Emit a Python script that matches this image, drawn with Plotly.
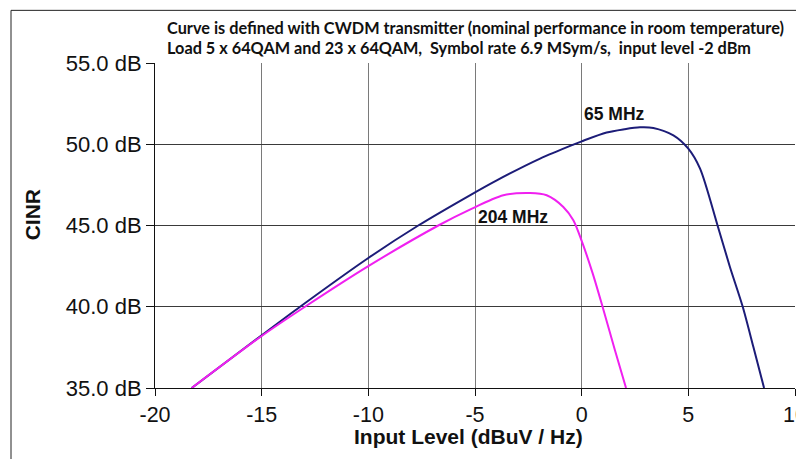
import plotly.graph_objects as go

# 65 MHz curve
x_65 = [-18.28, -15, -13.2, -10, -7.66, -5.24, -3.98, -1.95, -0.39, 0, 1.17, 2.0, 2.73, 3.36, 4.3, 5, 5.55, 6.37, 6.95, 7.55, 8.05, 8.55]
y_65 = [35, 38.24, 40, 43.0, 45, 46.86, 47.78, 49.12, 49.98, 50.18, 50.72, 50.92, 51.04, 51.0, 50.55, 49.73, 48.5, 45, 42.45, 40, 37.52, 35]

# 204 MHz curve
x_204 = [-18.28, -15, -12.97, -10, -6.72, -5.24, -3.67, -2.42, -1.64, -0.86, -0.39, 0, 0.52, 0.98, 1.56, 2.08]
y_204 = [35, 38.2, 40, 42.5, 45, 45.98, 46.86, 47.0, 46.86, 46.14, 45.32, 44.05, 42.04, 40, 37.32, 35]

x_ticks = [-20, -15, -10, -5, 0, 5, 10]
y_ticks = [35, 40, 45, 50, 55]

title_lines = [
    "Curve is defined with CWDM transmitter (nominal performance in room temperature)",
    "Load 5 x 64QAM and 23 x 64QAM,  Symbol rate 6.9 MSym/s,  input level -2 dBm",
]

fig = go.Figure()
fig.add_trace(go.Scatter(x=x_65, y=y_65, mode="lines", name="65 MHz",
                         line=dict(color="#1c1c78", width=2, shape="spline", smoothing=0.8)))
fig.add_trace(go.Scatter(x=x_204, y=y_204, mode="lines", name="204 MHz",
                         line=dict(color="#f020f0", width=2, shape="spline", smoothing=0.8)))

fig.add_annotation(x=1.52, y=51.85, text="<b>65 MHz</b>", showarrow=False,
                   font=dict(family="Liberation Sans, Arial", size=17.5, color="#111"))
fig.add_annotation(x=-3.22, y=45.5, text="<b>204 MHz</b>", showarrow=False,
                   font=dict(family="Liberation Sans, Arial", size=17.5, color="#111"))

for t, yy in zip(title_lines, [1.11, 1.048]):
    fig.add_annotation(xref="paper", yref="paper", x=0.0156, y=yy, text="<b>" + t + "</b>",
                       showarrow=False, xanchor="left", yanchor="middle",
                       font=dict(family="Lato, Carlito, sans-serif", size=16.3, color="#111"))

# axis titles
fig.add_annotation(xref="paper", yref="paper", x=(468 - 155) / 640, y=(387.7 - 436) / 325,
                   text="<b>Input Level (dBuV / Hz)</b>", showarrow=False,
                   xanchor="center", yanchor="middle",
                   font=dict(family="Liberation Sans, Arial", size=21, color="#111"))
fig.add_annotation(xref="paper", yref="paper", x=(32 - 155) / 640, y=(387.7 - 215) / 325,
                   text="<b>CINR</b>", showarrow=False, textangle=-90,
                   xanchor="center", yanchor="middle",
                   font=dict(family="Liberation Sans, Arial", size=21, color="#111"))

# outer frame
fig.add_shape(type="rect", xref="paper", yref="paper", x0=-0.225, x1=1.2, y0=-0.4, y1=1.162,
              line=dict(color="#222", width=1), fillcolor="rgba(0,0,0,0)", layer="below")

fig.update_layout(
    width=796, height=451,
    margin=dict(l=147, r=9, t=55, b=71),
    plot_bgcolor="white", paper_bgcolor="white",
    showlegend=False,
    font=dict(family="Liberation Sans, Arial", color="#111"),
)
fig.update_xaxes(range=[-20, 10], tickvals=x_ticks, ticktext=[str(v) for v in x_ticks],
                 showgrid=True, gridcolor="#7a7a7a", gridwidth=1,
                 showline=True, linecolor="#111", linewidth=1,
                 ticks="outside", ticklen=7, tickcolor="#111",
                 tickfont=dict(size=21.5), zeroline=False, automargin=False,
                 ticklabeloverflow="allow")
fig.update_yaxes(range=[35, 55], tickvals=y_ticks, ticktext=[f"{v:.1f} dB" for v in y_ticks],
                 showgrid=True, gridcolor="#3a3a3a", gridwidth=1,
                 showline=True, linecolor="#111", linewidth=1,
                 ticks="outside", ticklen=8, tickcolor="#111",
                 tickfont=dict(size=22), zeroline=False, automargin=False,
                 ticklabeloverflow="allow")

fig.write_html("out.html")
